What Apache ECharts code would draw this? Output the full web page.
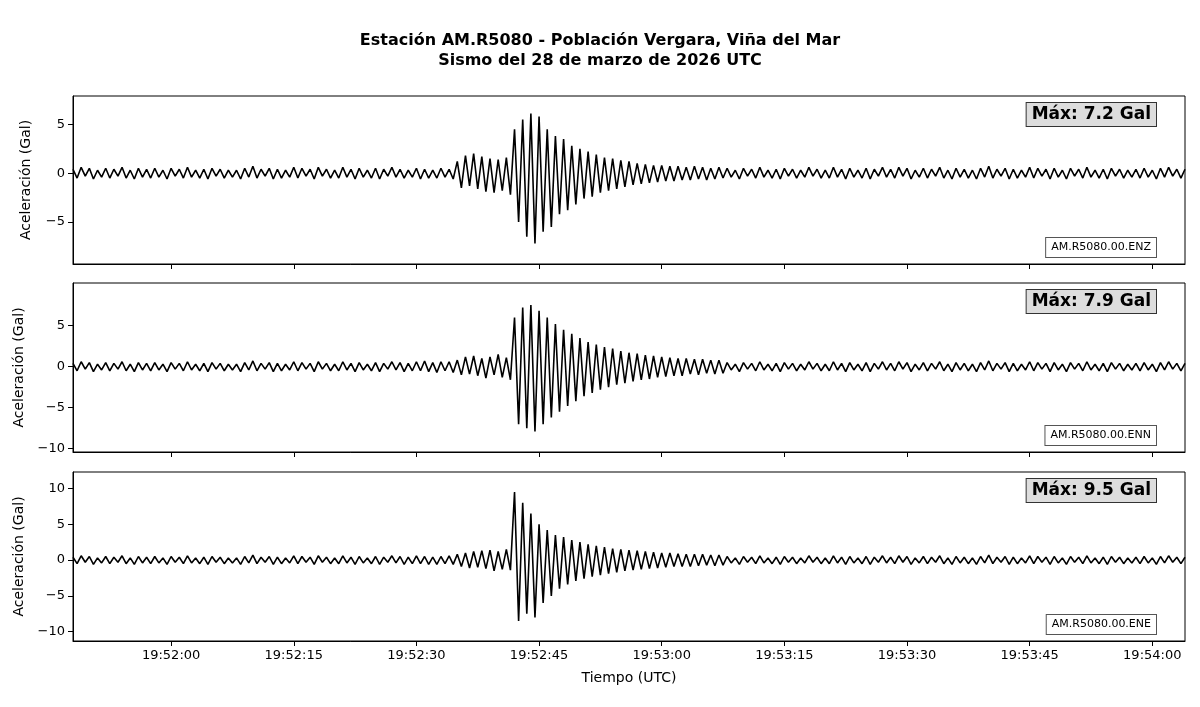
<!DOCTYPE html>
<html><head><meta charset="utf-8">
<script src="https://cdn.jsdelivr.net/npm/echarts@6/dist/echarts.min.js"></script>
<style>html,body{margin:0;padding:0;background:#fff}#c{width:1200px;height:707px}</style>
</head><body><div id="c"></div>
<script>
// time grid: seconds relative to 19:52:00 UTC
const startSec = -12, stepSec = 0.5;
const tickSeconds = [0,15,30,45,60,75,90,105,120];
const tickLabels = ['19:52:00','19:52:15','19:52:30','19:52:45','19:53:00','19:53:15','19:53:30','19:53:45','19:54:00'];
const channels = ['AM.R5080.00.ENZ','AM.R5080.00.ENN','AM.R5080.00.ENE'];
const maxLabels = ['Máx: 7.2 Gal','Máx: 7.9 Gal','Máx: 9.5 Gal'];
const yTicks = [[-5,0,5],[-10,-5,0,5],[-10,-5,0,5,10]];
const yRanges = [[-9.3,7.9],[-10.4,10.2],[-11.3,12.3]];

const noise1 = [0.4,-0.5,0.6,-0.3,0.5,-0.6,0.3,-0.4,0.5,-0.5,0.4,-0.3,0.6,-0.5,0.3,-0.6,0.5,-0.4,0.4,-0.5];
const noise2 = [0.5,-0.4,0.3,-0.6,0.5,-0.3,0.4,-0.5,0.6,-0.4,0.3,-0.5,0.4,-0.6,0.5,-0.3,0.4,-0.5,0.3,-0.4];
const noise3 = [0.3,-0.6,0.5,-0.4,0.7,-0.5,0.4,-0.3,0.5,-0.6,0.4,-0.5,0.3,-0.4,0.6,-0.5,0.5,-0.3,0.4,-0.6];
const noise4 = [0.6,-0.3,0.4,-0.5,0.3,-0.5,0.6,-0.4,0.4,-0.6,0.5,-0.4,0.3,-0.5,0.5,-0.6,0.4,-0.3,0.6,-0.4];
const noiseTail = [0.4,-0.5,0.5,-0.4,0.3,-0.6,0.5,-0.4,0.6,-0.3,0.4,-0.5,0.4];

const enzEvent = [0.4,-0.5,0.3,-0.4,0.5,-0.6,0.4,-0.5,0.3,-0.5,0.5,-0.4,0.4,-0.6,1.2,-1.5,1.8,-1.3,2.0,-1.6,
 1.7,-1.9,1.5,-2.0,1.4,-1.8,1.6,-2.2,4.5,-5.0,5.5,-6.5,6.1,-7.2,5.8,-6.0,4.5,-5.5,3.8,-4.2,
 3.5,-3.8,2.8,-3.2,2.5,-2.6,2.2,-2.4,1.9,-2.0,1.6,-1.8,1.5,-1.6,1.3,-1.4,1.2,-1.2,1.0,-1.1,
 0.9,-1.0,0.8,-0.9,0.8,-0.8,0.7,-0.8,0.7,-0.7,0.6,-0.7,0.7,-0.6,0.6,-0.7,0.5,-0.6,0.6,-0.5];
const ennEvent = [0.5,-0.6,0.4,-0.5,0.6,-0.5,0.7,-0.6,0.5,-0.7,0.6,-0.5,0.6,-0.7,0.8,-1.0,1.2,-0.9,1.3,-1.1,
 1.0,-1.4,1.2,-1.0,1.5,-1.3,1.1,-1.6,6.0,-7.0,7.2,-7.5,7.5,-7.9,6.8,-7.0,6.0,-6.2,5.2,-5.5,
 4.5,-4.8,4.0,-4.2,3.5,-3.6,3.0,-3.2,2.7,-2.8,2.4,-2.5,2.2,-2.2,1.9,-2.0,1.7,-1.8,1.6,-1.6,
 1.4,-1.5,1.3,-1.3,1.2,-1.2,1.1,-1.1,1.0,-1.1,1.0,-0.9,0.9,-1.0,0.9,-0.8,0.8,-0.9,0.8,-0.8];
const eneEvent = [0.5,-0.6,0.4,-0.5,0.6,-0.5,0.5,-0.6,0.4,-0.6,0.5,-0.5,0.6,-0.6,0.8,-0.9,1.0,-1.1,1.2,-1.0,
 1.3,-1.2,1.4,-1.5,1.2,-1.3,1.5,-1.4,9.5,-8.5,8.0,-7.5,6.5,-8.0,5.0,-6.0,4.2,-5.0,3.5,-4.0,
 3.2,-3.4,2.8,-2.9,2.5,-2.6,2.2,-2.3,2.0,-2.1,1.8,-1.9,1.6,-1.7,1.5,-1.5,1.4,-1.4,1.3,-1.3,
 1.2,-1.2,1.1,-1.1,1.0,-1.0,1.0,-0.9,0.9,-0.9,0.8,-0.9,0.8,-0.8,0.8,-0.7,0.7,-0.8,0.7,-0.7];

const pre = [].concat(noise1, noise2, noise3, noise4);
const post = [].concat(noise2, noise4, noise1, noise3, noise2, noiseTail);
const traces = [enzEvent, ennEvent, eneEvent].map(ev => [].concat(pre, ev, post).map((v,i)=>[startSec+i*stepSec, v]));

const tops=[96,283,472], heights=[168,169,169];
const fmt = v => { const i = tickSeconds.indexOf(v); return i>=0 ? tickLabels[i] : ''; };
const grids=[], xAxes=[], yAxes=[], series=[], graphics=[];
for (let k=0;k<3;k++){
  grids.push({left:73,right:15,top:tops[k],height:heights[k],show:true,borderColor:'#000',borderWidth:1,backgroundColor:'transparent'});
  xAxes.push({type:'value',gridIndex:k,min:-12,max:124,
    axisLine:{show:true,onZero:false,lineStyle:{color:'#000'}},splitLine:{show:false},
    axisTick:{show:true,customValues:tickSeconds,lineStyle:{color:'#000'},length:5},
    axisLabel:{show:k===2,customValues:tickSeconds,formatter:fmt,color:'#000',fontSize:13,fontFamily:'DejaVu Sans',margin:8},
    name:k===2?'Tiempo (UTC)':'',nameLocation:'middle',nameGap:30,nameTextStyle:{color:'#000',fontSize:14,fontFamily:'DejaVu Sans'}});
  yAxes.push({type:'value',gridIndex:k,min:yRanges[k][0],max:yRanges[k][1],
    axisLine:{show:true,onZero:false,lineStyle:{color:'#000'}},splitLine:{show:false},
    axisTick:{show:true,customValues:yTicks[k],lineStyle:{color:'#000'},length:5},
    axisLabel:{customValues:yTicks[k],color:'#000',fontSize:13,fontFamily:'DejaVu Sans',formatter:v=>v<0?'\u2212'+(-v):String(v)},
    name:'Aceleración (Gal)',nameLocation:'middle',nameGap:40,nameTextStyle:{color:'#000',fontSize:14,fontFamily:'DejaVu Sans'}});
  series.push({type:'line',xAxisIndex:k,yAxisIndex:k,data:traces[k],showSymbol:false,lineStyle:{color:'#000',width:1.6},animation:false});
  graphics.push({type:'text',right:43,top:tops[k]+6,style:{text:maxLabels[k],font:'bold 17px DejaVu Sans',fill:'#000',backgroundColor:'#ddd',borderColor:'#333',borderWidth:1,padding:[3,5]}});
  graphics.push({type:'text',right:43,top:tops[k]+heights[k]-27,style:{text:channels[k],font:'11px DejaVu Sans',fill:'#000',backgroundColor:'#fff',borderColor:'#555',borderWidth:1,padding:[4,5]}});
}
const chart = echarts.init(document.getElementById('c'));
chart.setOption({
  animation:false,
  title:{text:'Estación AM.R5080 - Población Vergara, Viña del Mar\nSismo del 28 de marzo de 2026 UTC',left:'center',top:26,
    textStyle:{fontSize:16,fontWeight:'bold',color:'#000',fontFamily:'DejaVu Sans',lineHeight:20}},
  grid:grids,xAxis:xAxes,yAxis:yAxes,series:series,graphic:graphics
});
</script></body></html>
